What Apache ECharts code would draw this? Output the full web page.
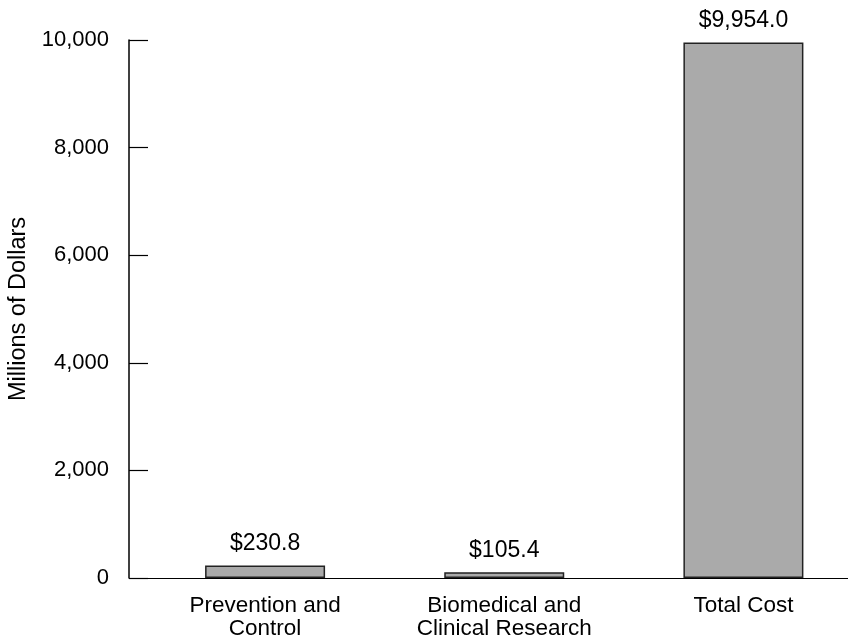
<!DOCTYPE html>
<html>
<head>
<meta charset="utf-8">
<script src="https://cdn.jsdelivr.net/npm/echarts@6/dist/echarts.min.js"></script>
<style>
html,body{margin:0;padding:0;background:#fff;overflow:hidden;width:848px;height:640px;}
#chart{width:863px;height:640px;}
</style>
</head>
<body>
<div id="chart"></div>
<script>
var categories = ['Prevention and\nControl', 'Biomedical and\nClinical Research', 'Total Cost'];
var costValues = [230.8, 105.4, 9954.0];
var yTicks = { min: 0, max: 10000, interval: 2000 };
var yAxisTitle = 'Millions of Dollars';

var FONT = '"Liberation Sans", Arial, Helvetica, sans-serif';
var chart = echarts.init(document.getElementById('chart'), null, { renderer: 'canvas' });

function fmtNum(v, d) {
  return v.toLocaleString('en-US', { minimumFractionDigits: d, maximumFractionDigits: d });
}

chart.setOption({
  backgroundColor: '#ffffff',
  animation: false,
  grid: { left: 145.5, top: 40, right: 0, bottom: 62, containLabel: false, outerBoundsMode: 'none' },
  xAxis: {
    type: 'category',
    data: categories,
    axisLine: { show: true, lineStyle: { color: '#000', width: 1.2 } },
    axisTick: { show: false },
    axisLabel: {
      color: '#000', fontFamily: FONT, fontSize: 22.5, lineHeight: 23, margin: 16, interval: 0
    },
    splitLine: { show: false }
  },
  yAxis: {
    type: 'value',
    min: yTicks.min, max: yTicks.max, interval: yTicks.interval,
    offset: 16.5,
    name: yAxisTitle,
    nameLocation: 'middle',
    nameGap: 93,
    nameTextStyle: { color: '#000', fontFamily: FONT, fontSize: 23.5 },
    axisLine: { show: true, lineStyle: { color: '#000', width: 1.5 } },
    axisTick: { show: true, inside: true, length: 19, lineStyle: { color: '#000', width: 1.2 } },
    axisLabel: {
      color: '#000', fontFamily: FONT, fontSize: 22, margin: 20,
      formatter: function (v) { return fmtNum(v, 0); }
    },
    splitLine: { show: false }
  },
  series: [{
    type: 'bar',
    data: costValues,
    barWidth: 120,
    itemStyle: { color: '#aaaaaa', borderColor: '#222', borderWidth: 1.5 },
    label: {
      show: true, position: 'top', distance: 10,
      color: '#000', fontFamily: FONT, fontSize: 23,
      formatter: function (p) { return '$' + fmtNum(p.value, 1); }
    }
  }]
});
</script>
</body>
</html>
